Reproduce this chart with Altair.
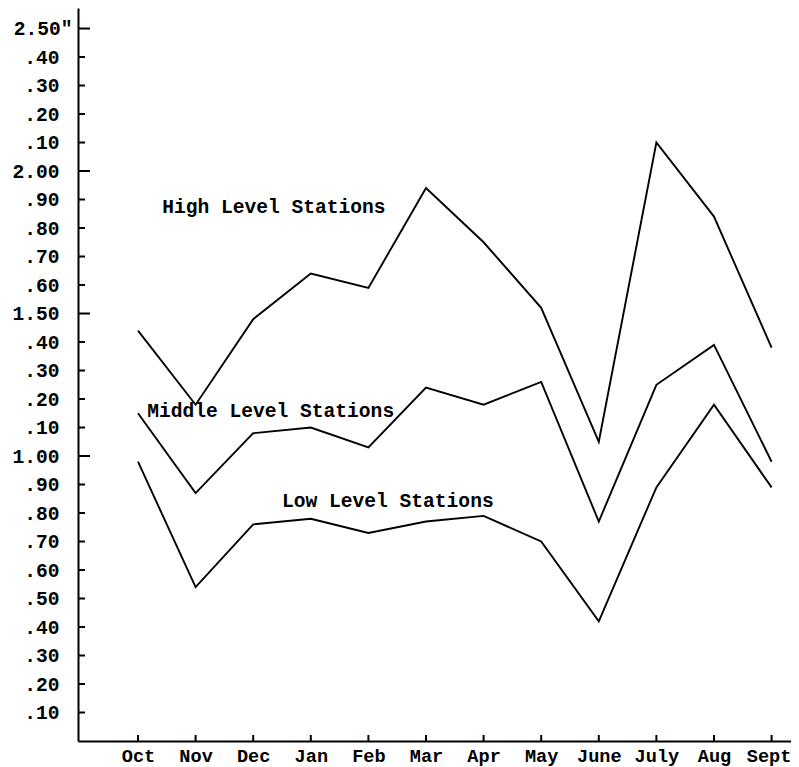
import json
import altair as alt
import pandas as pd

months = ["Oct", "Nov", "Dec", "Jan", "Feb", "Mar", "Apr", "May", "June", "July", "Aug", "Sept"]
high = [1.44, 1.18, 1.48, 1.64, 1.59, 1.94, 1.75, 1.52, 1.05, 2.10, 1.84, 1.38]
middle = [1.15, 0.87, 1.08, 1.10, 1.03, 1.24, 1.18, 1.26, 0.77, 1.25, 1.39, 0.98]
low = [0.98, 0.54, 0.76, 0.78, 0.73, 0.77, 0.79, 0.70, 0.42, 0.89, 1.18, 0.89]
series_names = ["High Level Stations", "Middle Level Stations", "Low Level Stations"]

y_ticks = [0.1, 0.2, 0.3, 0.4, 0.5, 0.6, 0.7, 0.8, 0.9, 1.0, 1.1, 1.2, 1.3,
           1.4, 1.5, 1.6, 1.7, 1.8, 1.9, 2.0, 2.1, 2.2, 2.3, 2.4, 2.5]
y_major = [1.0, 1.5, 2.0, 2.5]

label_x = [0.42, 0.16, 2.5]
label_y = [1.853, 1.137, 0.821]

FONT = "Liberation Mono"
FS = 19.6
FSX = 18.6

rows = []
for name, vals in zip(series_names, [high, middle, low]):
    for i, v in enumerate(vals):
        rows.append({"idx": i, "value": v, "series": name})
df = pd.DataFrame(rows)

lab_df = pd.DataFrame({"x": label_x, "y": label_y, "text": series_names})
minor_df = pd.DataFrame({"v": [t for t in y_ticks if t not in y_major]})
major_df = pd.DataFrame({"v": y_major})
xt_df = pd.DataFrame({"idx": list(range(len(months)))})

W, H = 713, 733
xscale = alt.Scale(domain=[-1.0417, 11.337], nice=False, zero=False)
yscale = alt.Scale(domain=[0, 2.572], nice=False)

month_expr = json.dumps(months).replace('"', "'") + "[datum.value]"
y_expr = ("datum.value == 2.5 ? '2.50\"' : ((datum.value >= 0.99 && "
          "abs(datum.value*2 - round(datum.value*2)) < 0.01) ? format(datum.value, '.2f') "
          ": '.' + slice(format(datum.value, '.2f'), -2))")

xaxis = alt.Axis(values=list(range(len(months))), labelExpr=month_expr, grid=False,
                 ticks=False, domain=True, domainColor="black", domainWidth=2,
                 labelPadding=5, labelFont=FONT, labelFontSize=FSX, labelFontWeight="bold",
                 labelColor="black", title=None, labelFlush=False, labelOverlap=False,
                 labelOffset={"condition": {"test": "datum.value == 11", "value": -3}, "value": 0})
yaxis = alt.Axis(values=y_ticks, labelExpr=y_expr, grid=False, ticks=False, domain=True,
                 domainColor="black", domainWidth=2,
                 labelPadding={"condition": {"test": "datum.value == 2.5", "value": 6}, "value": 19},
                 labelFont=FONT,
                 labelFontSize=FS, labelFontWeight="bold", labelColor="black", title=None,
                 labelFlush=False, labelOverlap=False)

lines = alt.Chart(df).mark_line(color="black", strokeWidth=1.9).encode(
    x=alt.X("idx:Q", scale=xscale, axis=xaxis),
    y=alt.Y("value:Q", scale=yscale, axis=yaxis),
    detail="series:N",
)

texts = alt.Chart(lab_df).mark_text(align="left", baseline="alphabetic", font=FONT,
                                    fontSize=FS, fontWeight="bold", color="black").encode(
    x=alt.X("x:Q", scale=xscale, axis=xaxis),
    y=alt.Y("y:Q", scale=yscale, axis=yaxis),
    text="text:N",
)

minor_ticks = alt.Chart(minor_df).mark_rule(color="black", strokeWidth=2).encode(
    y=alt.Y("v:Q", scale=yscale, axis=yaxis), x=alt.value(0), x2=alt.value(7))
major_ticks = alt.Chart(major_df).mark_rule(color="black", strokeWidth=2).encode(
    y=alt.Y("v:Q", scale=yscale, axis=yaxis), x=alt.value(0), x2=alt.value(12))
x_ticks = alt.Chart(xt_df).mark_rule(color="black", strokeWidth=2).encode(
    x=alt.X("idx:Q", scale=xscale, axis=xaxis), y=alt.value(H), y2=alt.value(H - 6))

chart = alt.layer(lines, texts, minor_ticks, major_ticks, x_ticks).properties(
    width=W, height=H,
    autosize=alt.AutoSizeParams(type="none"),
    padding={"left": 70, "top": 0, "right": 0, "bottom": 26},
    background="white",
).configure_view(stroke=None).configure_axis(labelOverlap=False)

chart.save("out.html", embed_options={"renderer": "svg", "actions": False})
